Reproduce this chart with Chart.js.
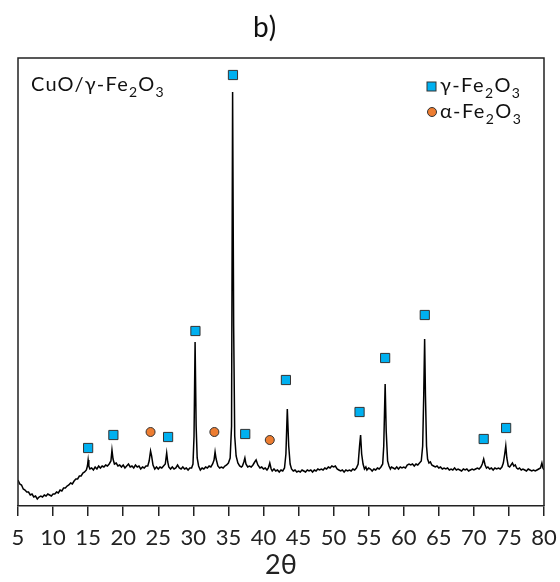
<!DOCTYPE html>
<html>
<head>
<meta charset="utf-8">
<script src="https://cdn.jsdelivr.net/npm/chart.js@4.4.1/dist/chart.umd.min.js"></script>
<style>
  html, body { margin: 0; padding: 0; background: #fff; }
  #wrap { width: 560px; height: 582px; }
</style>
</head>
<body>
<div id="wrap"><canvas id="xrdChart" width="560" height="582"></canvas></div>
<script>
// diffraction pattern (arbitrary intensity units)
const twoTheta = [
  5.00, 5.25, 5.50, 5.75, 6.00, 6.25, 6.50, 6.75, 7.00, 7.25, 7.50, 7.75, 8.00, 8.25, 8.50, 8.75,
  9.00, 9.25, 9.50, 9.75, 10.00, 10.25, 10.50, 10.75, 11.00, 11.25, 11.50, 11.75, 12.00, 12.25,
  12.50, 12.75, 13.00, 13.25, 13.50, 13.75, 14.00, 14.25, 14.50, 14.75, 14.90, 15.00, 15.10, 15.25,
  15.50, 15.75, 16.00, 16.25, 16.50, 16.75, 17.00, 17.25, 17.50, 17.75, 18.00, 18.25, 18.40, 18.55,
  18.75, 19.00, 19.25, 19.50, 19.75, 20.00, 20.25, 20.50, 20.75, 21.00, 21.25, 21.50, 21.75, 22.00,
  22.25, 22.50, 22.75, 23.00, 23.25, 23.50, 23.70, 23.90, 24.05, 24.25, 24.50, 24.75, 25.00, 25.25,
  25.50, 25.75, 26.00, 26.20, 26.35, 26.50, 26.75, 27.00, 27.25, 27.50, 27.75, 28.00, 28.25, 28.50,
  28.75, 29.00, 29.25, 29.50, 29.75, 29.95, 30.10, 30.25, 30.40, 30.55, 30.75, 31.00, 31.25, 31.50,
  31.75, 32.00, 32.25, 32.50, 32.75, 32.95, 33.10, 33.25, 33.50, 33.75, 34.00, 34.25, 34.50, 34.75,
  35.00, 35.25, 35.45, 35.60, 35.75, 35.90, 36.10, 36.35, 36.60, 36.85, 37.00, 37.20, 37.35, 37.50,
  37.75, 38.00, 38.25, 38.50, 38.75, 38.95, 39.20, 39.50, 39.75, 40.00, 40.25, 40.50, 40.70, 40.90,
  41.10, 41.25, 41.50, 41.75, 42.00, 42.25, 42.50, 42.75, 43.00, 43.20, 43.40, 43.60, 43.80, 44.00,
  44.25, 44.50, 44.75, 45.00, 45.25, 45.50, 45.75, 46.00, 46.25, 46.50, 46.75, 47.00, 47.25, 47.50,
  47.75, 48.00, 48.25, 48.50, 48.75, 49.00, 49.25, 49.50, 49.75, 50.00, 50.25, 50.50, 50.75, 51.00,
  51.25, 51.50, 51.75, 52.00, 52.25, 52.50, 52.75, 53.00, 53.25, 53.50, 53.70, 53.85, 54.00, 54.20,
  54.40, 54.60, 54.75, 55.00, 55.25, 55.50, 55.75, 56.00, 56.25, 56.50, 56.75, 57.00, 57.15, 57.35,
  57.50, 57.70, 57.90, 58.10, 58.25, 58.50, 58.75, 59.00, 59.25, 59.50, 59.75, 60.00, 60.25, 60.50,
  60.75, 61.00, 61.25, 61.50, 61.75, 62.00, 62.25, 62.50, 62.70, 62.85, 62.98, 63.10, 63.25, 63.40,
  63.60, 63.80, 64.00, 64.25, 64.50, 64.75, 65.00, 65.25, 65.50, 65.75, 66.00, 66.25, 66.50, 66.75,
  67.00, 67.25, 67.50, 67.75, 68.00, 68.25, 68.50, 68.75, 69.00, 69.25, 69.50, 69.75, 70.00, 70.25,
  70.50, 70.75, 71.00, 71.20, 71.40, 71.60, 71.80, 72.00, 72.25, 72.50, 72.75, 73.00, 73.25, 73.50,
  73.75, 74.00, 74.20, 74.40, 74.55, 74.70, 74.90, 75.10, 75.30, 75.50, 75.70, 75.90, 76.10, 76.30,
  76.50, 76.75, 77.00, 77.25, 77.50, 77.75, 78.00, 78.25, 78.50, 78.75, 79.00, 79.25, 79.50, 79.70,
  79.85, 80.00
];
const intensity = [
  26, 22, 21, 17, 16, 14, 14, 11, 12, 9, 10, 7, 9, 10, 9, 11,
  10, 12, 11, 10, 12, 12, 14, 13, 16, 15, 18, 18, 20, 21,
  23, 22, 25, 27, 27, 30, 30, 33, 34, 36, 40, 46, 40, 37,
  38, 36, 39, 37, 40, 38, 40, 39, 41, 40, 42, 45, 56, 47,
  42, 43, 40, 41, 39, 41, 38, 40, 42, 39, 40, 38, 41, 39,
  40, 37, 39, 38, 40, 40, 45, 55, 50, 41, 37, 39, 37, 39,
  38, 40, 42, 53, 44, 39, 37, 39, 37, 38, 41, 38, 37, 39,
  37, 38, 36, 38, 38, 42, 70, 164, 80, 48, 40, 36, 38, 37,
  39, 38, 40, 39, 42, 46, 54, 47, 40, 38, 39, 38, 40, 41,
  43, 48, 80, 414, 180, 70, 50, 43, 40, 39, 40, 44, 48, 42,
  39, 40, 39, 41, 44, 46, 41, 38, 39, 37, 38, 36, 38, 43,
  37, 35, 37, 35, 36, 34, 36, 35, 38, 52, 97, 60, 42, 37,
  35, 36, 34, 35, 34, 36, 35, 34, 36, 35, 36, 34, 36, 35,
  37, 36, 37, 36, 38, 37, 39, 38, 40, 39, 40, 37, 36, 35,
  36, 34, 36, 35, 36, 35, 37, 36, 38, 42, 60, 71, 52, 42,
  37, 39, 36, 38, 37, 35, 37, 36, 38, 37, 39, 42, 60, 122,
  75, 45, 40, 37, 39, 38, 37, 39, 37, 39, 38, 39, 38, 41,
  42, 41, 42, 40, 42, 41, 43, 45, 60, 110, 167, 110, 60, 47,
  43, 44, 41, 40, 39, 40, 38, 39, 37, 38, 37, 38, 36, 37,
  36, 38, 36, 37, 36, 35, 37, 36, 37, 35, 36, 37, 36, 37,
  38, 37, 39, 42, 47, 41, 38, 39, 37, 38, 36, 38, 37, 38,
  37, 39, 43, 52, 60, 48, 40, 39, 41, 43, 40, 41, 38, 37,
  38, 36, 37, 36, 35, 37, 36, 35, 36, 35, 36, 37, 38, 43,
  38, 36
];

// phase markers
const gammaPos  = [15.0, 18.6, 26.4, 30.3, 35.65, 37.4, 43.2, 53.7, 57.35, 63.0, 71.4, 74.6];
const gammaMark = [58, 71, 69, 175, 431, 72, 126, 94, 148, 191, 67, 78];
const alphaPos  = [23.9, 33.0, 40.9];
const alphaMark = [74, 74, 66];

const xTicks = [5, 10, 15, 20, 25, 30, 35, 40, 45, 50, 55, 60, 65, 70, 75, 80];

const FONT = 'Lato, "Noto Sans", sans-serif';
const BLUE = '#00b0f0';
const ORANGE = '#ed7d31';

function drawRich(ctx, parts, x, y, size, spacing) {
  let cx = x;
  ctx.letterSpacing = spacing + 'px';
  parts.forEach(function (p) {
    const sub = p[1] === 'sub';
    ctx.font = (sub ? Math.round(size * 0.7) : size) + 'px ' + FONT;
    ctx.fillText(p[0], cx, sub ? y + size * 0.28 : y);
    cx += ctx.measureText(p[0]).width;
  });
  ctx.letterSpacing = '0px';
}

function feOxide(prefix) {
  return [[prefix + '-Fe'], ['2', 'sub'], ['O'], ['3', 'sub']];
}

const decor = {
  id: 'decor',
  afterDraw: function (chart) {
    const ctx = chart.ctx;
    const a = chart.chartArea;
    ctx.save();
    ctx.strokeStyle = '#222';
    ctx.lineWidth = 1.5;
    ctx.beginPath();
    ctx.moveTo(a.left, a.bottom);
    ctx.lineTo(a.left, a.top);
    ctx.lineTo(a.right, a.top);
    ctx.lineTo(a.right, a.bottom);
    ctx.stroke();

    ctx.fillStyle = '#111';
    ctx.textBaseline = 'alphabetic';
    ctx.textAlign = 'left';
    ctx.font = '28px ' + FONT;
    ctx.letterSpacing = '1px';
    ctx.fillText('b)', 253, 37);

    drawRich(ctx, [['CuO/γ-Fe'], ['2', 'sub'], ['O'], ['3', 'sub']], 31, 91, 20, 1.2);
    drawRich(ctx, feOxide('γ'), 440, 92, 20, 1.4);
    drawRich(ctx, feOxide('α'), 440, 118, 20, 1.4);

    // legend symbols
    ctx.lineWidth = 1;
    ctx.strokeStyle = '#333';
    ctx.fillStyle = BLUE;
    ctx.fillRect(427, 82, 9, 9);
    ctx.strokeRect(427, 82, 9, 9);
    ctx.fillStyle = ORANGE;
    ctx.beginPath();
    ctx.arc(432, 112, 4.5, 0, Math.PI * 2);
    ctx.fill();
    ctx.stroke();
    ctx.restore();
  }
};

const ctx = document.getElementById('xrdChart').getContext('2d');
const chart = new Chart(ctx, {
  type: 'line',
  data: {
    datasets: [
      {
        label: 'γ-Fe2O3',
        type: 'scatter',
        data: gammaPos.map((x, i) => ({ x: x, y: gammaMark[i] })),
        pointStyle: 'rect',
        pointRadius: 6.5,
        backgroundColor: BLUE,
        borderColor: '#333',
        borderWidth: 1,
        order: 0,
      },
      {
        label: 'α-Fe2O3',
        type: 'scatter',
        data: alphaPos.map((x, i) => ({ x: x, y: alphaMark[i] })),
        pointStyle: 'circle',
        pointRadius: 4.5,
        backgroundColor: ORANGE,
        borderColor: '#333',
        borderWidth: 1,
        order: 0,
      },
      {
        label: 'CuO/γ-Fe2O3',
        data: twoTheta.map((x, i) => ({ x: x, y: intensity[i] })),
        borderColor: '#000',
        borderWidth: 1.5,
        pointRadius: 0,
        tension: 0,
        fill: false,
        order: 1,
      },
    ],
  },
  options: {
    responsive: false,
    animation: false,
    layout: { padding: { top: 58, left: 18, right: 16, bottom: 0 } },
    plugins: {
      legend: { display: false },
      tooltip: { enabled: false },
    },
    scales: {
      x: {
        type: 'linear',
        min: 5,
        max: 80,
        afterBuildTicks: function (scale) {
          scale.ticks = xTicks.map(v => ({ value: v }));
        },
        afterFit: function (scale) {
          scale.height = 76;
          // labels may hang over the edges; keep the plot box fixed
          scale.paddingLeft = 0;
          scale.paddingRight = 0;
        },
        grid: {
          drawOnChartArea: false,
          drawTicks: true,
          tickLength: 10,
          color: '#222',
          lineWidth: 1.5,
        },
        border: { display: true, color: '#222', width: 1.5 },
        ticks: {
          autoSkip: false,
          maxRotation: 0,
          padding: 9,
          color: '#222',
          font: { family: FONT, size: 22 },
        },
        title: {
          display: true,
          text: '2θ',
          color: '#222',
          padding: { top: 0, bottom: 1 },
          font: { family: FONT, size: 27 },
        },
      },
      y: {
        display: false,
        min: 0,
        max: 448,
      },
    },
  },
  plugins: [decor],
});
</script>
</body>
</html>
